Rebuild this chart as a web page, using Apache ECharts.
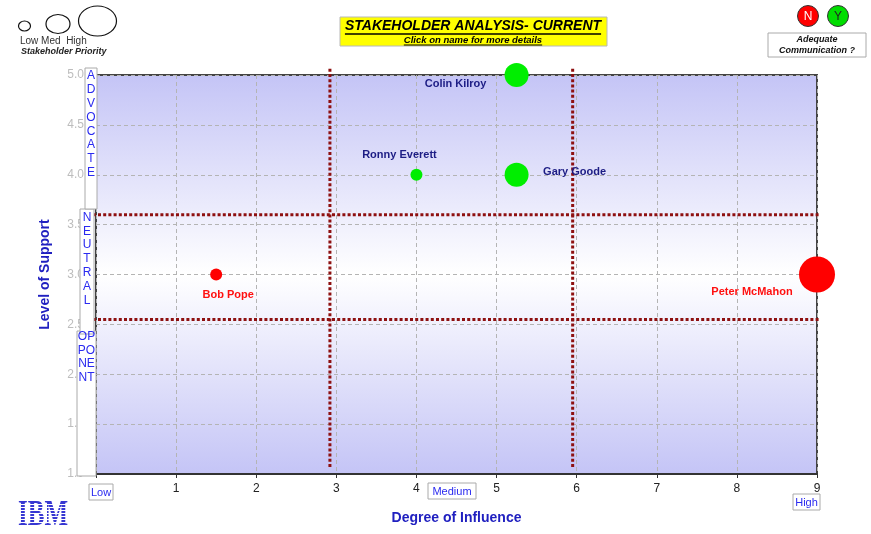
<!DOCTYPE html>
<html>
<head>
<meta charset="utf-8">
<title>Stakeholder Analysis - Current</title>
<script src="https://cdn.jsdelivr.net/npm/echarts@6/dist/echarts.min.js"></script>
<style>
  html, body { margin: 0; padding: 0; background: #ffffff; }
  #chart { width: 871px; height: 534px; }
</style>
</head>
<body>
<div id="chart"></div>
<script>
// Stakeholders plotted by influence (x) and level of support (y)
const names = ['Colin Kilroy', 'Ronny Everett', 'Gary Goode', 'Bob Pope', 'Peter McMahon'];
const influence = [5.25, 4.0, 5.25, 1.5, 9.0];
const support = [5.0, 4.0, 4.0, 3.0, 3.0];
const priority = ['Med', 'Low', 'Med', 'Low', 'High'];
const communication = ['Y', 'Y', 'Y', 'N', 'N'];

// Zone boundaries (dotted dividers)
const influenceDividers = [2.92, 5.95];
const supportDividers = [3.6, 2.55];

// Axis wording
const xBandLabels = ['Low', 'Medium', 'High'];
const priorityLabels = ['Low', 'Med', 'High'];
const supportZones = ['ADVOCATE', 'NEUTRAL', 'OPPONENT'];

// ---- styling ----
const prioritySize = { Low: 12, Med: 24, High: 36 };
const commColor = { Y: '#00ee00', N: '#ff0000' };
const labelColor = { Y: '#1c1c84', N: '#ff1010' };
// label offsets from bubble centre, per stakeholder
const labelOffsets = [[-61, 9], [-17, -20], [58, -3], [12, 20], [-65, 17]];

const chart = echarts.init(document.getElementById('chart'), null, { renderer: 'canvas' });

const points = names.map((n, i) => ({
  name: n,
  value: [influence[i], support[i]],
  symbolSize: prioritySize[priority[i]],
  itemStyle: { color: commColor[communication[i]], opacity: 1 },
  label: {
    show: true,
    formatter: n,
    position: 'inside',
    offset: labelOffsets[i],
    color: labelColor[communication[i]],
    fontFamily: 'Liberation Sans, Arial, sans-serif',
    fontWeight: 'bold',
    fontSize: 11
  }
}));

const dividerStyle = { color: '#8e1010', width: 3, type: [3, 2.2] };
const dividerSeries = [];
influenceDividers.forEach(x => dividerSeries.push({
  type: 'line', data: [[x, 1.07], [x, 5.07]], symbol: 'none', clip: false,
  lineStyle: dividerStyle, silent: true, z: 3, animation: false
}));
supportDividers.forEach(y => dividerSeries.push({
  type: 'line', data: [[-0.04, y], [9.03, y]], symbol: 'none', clip: false,
  lineStyle: dividerStyle, silent: true, z: 3, animation: false
}));

// text measurement for underlines
const mctx = document.createElement('canvas').getContext('2d');
function textWidth(font, s) { mctx.font = font; return mctx.measureText(s).width; }

const FONT = 'Liberation Sans, Arial, sans-serif';
const blue = '#2a2af0';
const g = [];

// --- priority legend (top left) ---
const legendShapes = [[24.5, 26, 6, 5], [58, 24, 12, 9.5], [97.5, 21, 19, 15]];
legendShapes.forEach(s => g.push({
  type: 'ellipse', shape: { cx: s[0], cy: s[1], rx: s[2], ry: s[3] },
  style: { fill: 'none', stroke: '#111', lineWidth: 1.2 }, z: 100
}));
g.push({ type: 'text', x: 20, y: 41, z: 100,
  style: { text: priorityLabels.join(' ').replace('Med ', 'Med  '), font: '10px ' + FONT, fill: '#333', verticalAlign: 'middle' } });
g.push({ type: 'text', x: 21, y: 52, z: 100,
  style: { text: 'Stakeholder Priority', font: 'italic bold 9px ' + FONT, fill: '#222', verticalAlign: 'middle' } });

// --- title box ---
const titleText = 'STAKEHOLDER ANALYSIS- CURRENT';
const subText = 'Click on name for more details';
const tFont = 'italic bold 14px ' + FONT;
const sFont = 'italic bold 9.5px ' + FONT;
g.push({ type: 'rect', shape: { x: 340, y: 17, width: 267, height: 29 },
  style: { fill: '#ffff00', stroke: '#b8b8b8', lineWidth: 1 }, z: 100 });
g.push({ type: 'text', x: 473, y: 26, z: 101,
  style: { text: titleText, font: tFont, fill: '#000', align: 'center', verticalAlign: 'middle' } });
const tw = textWidth(tFont, titleText);
g.push({ type: 'line', shape: { x1: 473 - tw / 2, y1: 34, x2: 473 + tw / 2, y2: 34 },
  style: { stroke: '#000', lineWidth: 1.3 }, z: 101 });
g.push({ type: 'text', x: 473, y: 40, z: 101,
  style: { text: subText, font: sFont, fill: '#000', align: 'center', verticalAlign: 'middle' } });
const sw = textWidth(sFont, subText);
g.push({ type: 'line', shape: { x1: 473 - sw / 2, y1: 45, x2: 473 + sw / 2, y2: 45 },
  style: { stroke: '#000', lineWidth: 1 }, z: 101 });

// --- communication key (top right) ---
[['N', 808, '#ff0000', '#ffffff'], ['Y', 838, '#00dd00', '#222']].forEach(k => {
  g.push({ type: 'circle', shape: { cx: k[1], cy: 16, r: 10.5 },
    style: { fill: k[2], stroke: '#333', lineWidth: 1 }, z: 100 });
  g.push({ type: 'text', x: k[1], y: 16.5, z: 101,
    style: { text: k[0], font: '12px ' + FONT, fill: k[3], align: 'center', verticalAlign: 'middle' } });
});
g.push({ type: 'rect', shape: { x: 768, y: 33, width: 98, height: 24 },
  style: { fill: '#fff', stroke: '#aaa', lineWidth: 1 }, z: 100 });
g.push({ type: 'text', x: 817, y: 40, z: 101,
  style: { text: 'Adequate', font: 'italic bold 9px ' + FONT, fill: '#111', align: 'center', verticalAlign: 'middle' } });
g.push({ type: 'text', x: 817, y: 50.5, z: 101,
  style: { text: 'Communication ?', font: 'italic bold 9px ' + FONT, fill: '#111', align: 'center', verticalAlign: 'middle' } });

// --- support zone boxes on the y axis ---
function zoneBox(x, y, w, h, lines, cx, y0, step) {
  g.push({ type: 'rect', shape: { x: x, y: y, width: w, height: h },
    style: { fill: '#fff', stroke: '#aaa', lineWidth: 1 }, z: 100 });
  lines.forEach((ln, i) => g.push({ type: 'text', x: cx, y: y0 + i * step, z: 101,
    style: { text: ln, font: '12px ' + FONT, fill: blue, align: 'center', verticalAlign: 'middle' } }));
}
// opponent first so the neutral box overlaps its first line
zoneBox(77, 331, 19, 145, supportZones[2].match(/.{1,2}/g), 86.5, 337, 13.5);
zoneBox(80, 209, 14, 125, supportZones[1].split(''), 87, 217.5, 13.8);
zoneBox(85, 68, 12, 141, supportZones[0].split(''), 91, 76, 13.8);

// --- influence band labels on the x axis ---
function bandBox(x, y, w, h, t) {
  g.push({ type: 'rect', shape: { x: x, y: y, width: w, height: h },
    style: { fill: '#fff', stroke: '#aaa', lineWidth: 1 }, z: 100 });
  g.push({ type: 'text', x: x + w / 2, y: y + h / 2 + 0.5, z: 101,
    style: { text: t, font: '11px ' + FONT, fill: blue, align: 'center', verticalAlign: 'middle' } });
}
bandBox(89, 484, 24, 16, xBandLabels[0]);
bandBox(428, 483, 48, 16, xBandLabels[1]);
bandBox(793, 494, 27, 16, xBandLabels[2]);

// --- IBM mark: tall serif letters cut by white stripes ---
const stripes = [];
for (let yy = -11.5; yy < 13; yy += 3) {
  stripes.push({ type: 'rect', shape: { x: -30, y: yy, width: 60, height: 1.1 }, style: { fill: '#fff' }, z: 102 });
}
g.push({
  type: 'group', x: 43, y: 515.5, z: 100,
  children: [
    { type: 'text', x: 0, y: 0, scaleY: 1.45, z: 100,
      style: { text: 'IBM', font: 'bold 25px "Liberation Serif", serif', fill: '#3636d2', align: 'center', verticalAlign: 'middle' } }
  ].concat(stripes)
});

const option = {
  backgroundColor: '#ffffff',
  animation: false,
  grid: {
    left: 96, right: 54, top: 75, bottom: 60,
    show: true,
    borderColor: '#444', borderWidth: 2,
    backgroundColor: {
      type: 'linear', x: 0, y: 0, x2: 0, y2: 1,
      colorStops: [
        { offset: 0, color: '#c4c4f6' },
        { offset: 0.5, color: '#ffffff' },
        { offset: 1, color: '#c4c4f6' }
      ]
    }
  },
  xAxis: {
    type: 'value', min: 0, max: 9, interval: 1,
    name: 'Degree of Influence', nameLocation: 'middle', nameGap: 37,
    nameTextStyle: { color: '#2020c0', fontWeight: 'bold', fontSize: 14, fontFamily: FONT },
    axisLine: { show: true, lineStyle: { color: '#333', width: 2 } },
    axisTick: { show: true, length: 4, lineStyle: { color: '#333' } },
    axisLabel: { color: '#222', fontSize: 12, fontFamily: FONT, margin: 9,
      formatter: v => (v === 0 ? '' : String(v)) },
    splitLine: { show: true, lineStyle: { color: '#b4b4b4', type: [4, 3] } }
  },
  yAxis: {
    type: 'value', min: 1, max: 5, interval: 0.5,
    name: 'Level of Support', nameLocation: 'middle', nameGap: 44,
    nameTextStyle: { color: '#2020c0', fontWeight: 'bold', fontSize: 14, fontFamily: FONT },
    axisLine: { show: false },
    axisTick: { show: false },
    axisLabel: { color: '#bdbdbd', fontSize: 12, fontFamily: FONT, margin: 12,
      formatter: v => v.toFixed(1) },
    splitLine: { show: true, lineStyle: { color: '#b4b4b4', type: [4, 3] } }
  },
  series: dividerSeries.concat([{
    type: 'scatter', data: points, z: 5, clip: false, symbol: 'circle',
    itemStyle: { opacity: 1 },
    emphasis: { disabled: true }
  }]),
  graphic: { elements: g }
};

chart.setOption(option);
</script>
</body>
</html>
